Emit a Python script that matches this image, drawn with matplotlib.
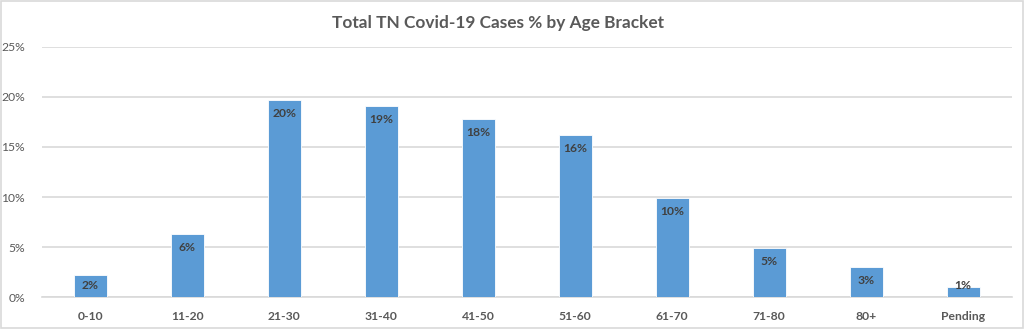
import matplotlib
matplotlib.use("Agg")
import matplotlib.pyplot as plt
from matplotlib.patches import Rectangle
from matplotlib.ticker import FuncFormatter, MultipleLocator

age_brackets = ["0-10", "11-20", "21-30", "31-40", "41-50", "51-60",
                "61-70", "71-80", "80+", "Pending"]
case_share = [2.2, 6.3, 19.7, 19.1, 17.8, 16.2, 9.9, 4.9, 3.0, 1.06]
title_text = "Total TN Covid-19 Cases % by Age Bracket"

BAR = "#5B9BD5"
GRID = "#D9D9D9"
TXT = "#595959"
LBL = "#404040"
FONT = ["Lato", "DejaVu Sans"]

fig = plt.figure(figsize=(10.24, 3.29), dpi=100)
fig.patch.set_facecolor("white")
ax = fig.add_axes([0.0407, 0.0963, 0.9473, 0.7617])

x = range(len(age_brackets))
ax.bar(x, case_share, width=0.337, color=BAR, edgecolor="white",
       linewidth=0.6, zorder=3)

ax.set_xlim(-0.5, len(age_brackets) - 0.5)
ax.set_ylim(0, 25)
ax.yaxis.set_major_locator(MultipleLocator(5))
ax.yaxis.set_major_formatter(FuncFormatter(lambda v, p: f"{v:.0f}%"))
ax.grid(axis="y", color=GRID, linewidth=1.2, zorder=0)
ax.set_axisbelow(True)
for s in ["top", "right", "left"]:
    ax.spines[s].set_visible(False)
ax.spines["bottom"].set_color(GRID)
ax.spines["bottom"].set_linewidth(1.2)
ax.tick_params(axis="both", length=0, colors=TXT, labelsize=8.7)
ax.tick_params(axis="x", pad=10)
ax.tick_params(axis="y", pad=12)
ax.set_xticks(list(x))
ax.set_xticklabels(age_brackets)
for lab in ax.get_xticklabels() + ax.get_yticklabels():
    lab.set_family(FONT)
for lab in ax.get_xticklabels():
    lab.set_fontweight("bold")

# value labels sit just inside the top of each bar
for i, v in enumerate(case_share):
    ax.text(i, max(v - 1.35, 1.2), f"{v:.0f}%", ha="center", va="center",
            fontsize=8.7, fontweight="bold", color=LBL, family=FONT, zorder=4)

fig.text(0.486, 0.931, title_text, ha="center", va="center",
         fontsize=12.4, fontweight="bold", color=TXT, family=FONT)

fig.patches.append(Rectangle((0.001, 0.002), 0.998, 0.995,
                             transform=fig.transFigure, fill=False,
                             edgecolor=GRID, linewidth=1.2))

fig.savefig("out.png", dpi=100, facecolor="white")
